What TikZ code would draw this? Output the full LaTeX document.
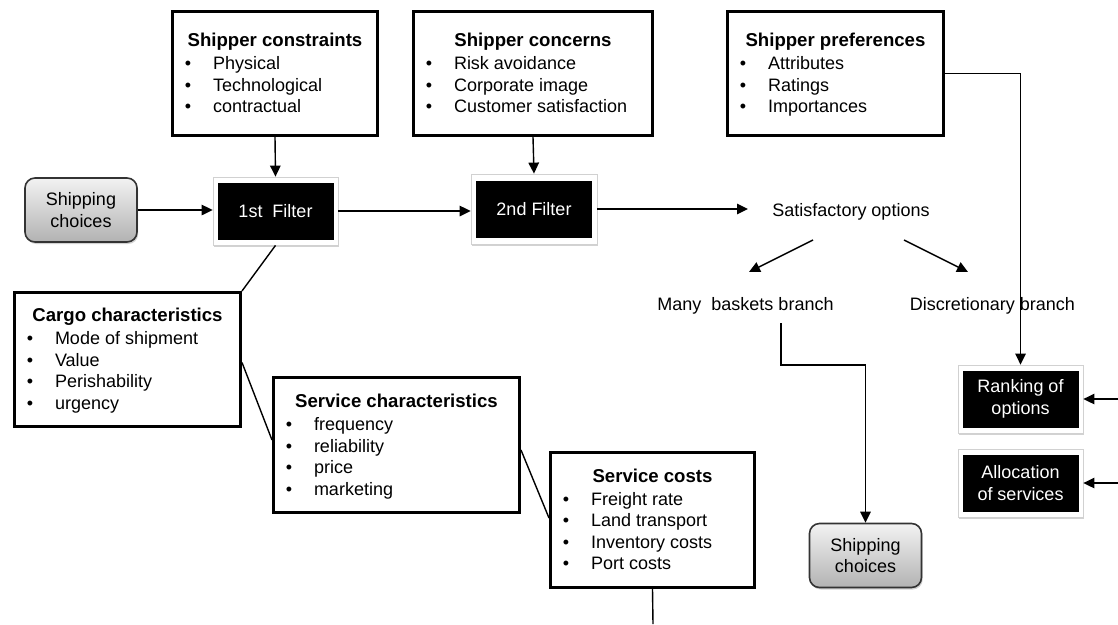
\documentclass[tikz,border=0pt]{standalone}
\usepackage{fontspec}
\setmainfont{Liberation Sans}
\usetikzlibrary{arrows.meta,shadows,calc}
\tikzset{
  txt/.style={inner sep=0pt, outer sep=0pt},
  lbox/.style={draw=black, line width=3pt, fill=white, inner sep=0pt},
  frame/.style={draw=black!18, line width=0.8pt, fill=white, inner sep=0pt,
    drop shadow={shadow xshift=1.2pt, shadow yshift=-1.8pt, fill=black!35, opacity=0.5}},
  blk/.style={fill=black, text=white, inner sep=0pt, align=center,
    minimum width=116pt, minimum height=57pt},
  choice/.style={draw=black!80, line width=1.6pt, rounded corners=10pt,
    top color=black!5, bottom color=black!30, align=center, inner sep=0pt,
    minimum width=112pt, minimum height=64pt,
    drop shadow={shadow xshift=1.2pt, shadow yshift=-2pt, fill=black!35, opacity=0.5}},
  conn/.style={line width=1.4pt},
  arr/.style={line width=1.4pt, -{Triangle[length=11pt,width=10.5pt]}},
}
\newcommand\listbox[8]{%
  \node[lbox, minimum width={(#4-#2-3)*1pt}, minimum height={(#5-#3-3)*1pt}] (#1) at ({(#2+#4)/2},{(#3+#5)/2}) {};
  \node[txt, anchor=base] (#1-t) at ({(#2+#4)/2},#6) {\fontsize{18.6}{21.5}\selectfont\textbf{#7}};
  \foreach \t [count=\i] in {#8}{%
    \node[txt, anchor=base] (#1-b\i) at ({#2+17},{#6+23+(\i-1)*21.5}) {\textbullet};
    \node[txt, anchor=base west] (#1-i\i) at ({#2+42},{#6+23+(\i-1)*21.5}) {\t};
  }%
}
\begin{document}
\begin{tikzpicture}[x=1pt, y={(0pt,-1pt)}, font=\fontsize{18}{21.5}\selectfont]
\fill[white] (0,0) rectangle (1118,624);
\useasboundingbox (0,0) rectangle (1118,624);

% top list boxes
\listbox{cons}{171}{10}{379}{137}{46.5}{Shipper constraints}{Physical,Technological,contractual}
\listbox{conc}{412}{10}{654}{137}{46.5}{Shipper concerns}{Risk avoidance,Corporate image,Customer satisfaction}
\listbox{pref}{726}{10}{945}{137}{46.5}{Shipper preferences}{Attributes,Ratings,Importances}

% bottom list boxes
\listbox{cargo}{13}{291}{242}{428}{321.5}{Cargo characteristics}{Mode of shipment,Value,Perishability,urgency}
\listbox{schar}{272}{376}{521}{514}{407.5}{Service characteristics}{frequency,reliability,price,marketing}
\listbox{scost}{549}{451}{756}{589}{482}{Service costs}{Freight rate,Land transport,Inventory costs,Port costs}

% shipping choices
\node[choice] (ship1) at (81,210) {Shipping\\choices};
\node[choice] (ship2) at (865.5,555.5) {Shipping\\choices};

% filters
\node[frame, minimum width=125pt, minimum height=68pt] (f1) at (275.5,211) {};
\node[blk] (f1i) at (275.5,211) {1st\ \ Filter};
\node[frame, minimum width=126pt, minimum height=70pt] (f2) at (534,209) {};
\node[blk] (f2i) at (534,209) {2nd Filter};
\node[frame, minimum width=125pt, minimum height=68pt] (rank) at (1020.5,399) {};
\node[blk] (ranki) at (1020.5,399) {Ranking of\\options};
\node[frame, minimum width=125pt, minimum height=68pt] (alloc) at (1020.5,483) {};
\node[blk] (alloci) at (1020.5,483) {Allocation\\of services};

% plain texts
\node[txt, anchor=base] (sat) at (851,216) {Satisfactory options};
\node[txt, anchor=base] (many) at (745.5,310) {Many\ \ baskets branch};
\node[txt, anchor=base] (disc) at (992.5,310) {Discretionary branch};

% free ends
\coordinate (satin) at (748,210);
\coordinate (s1a) at (813,240);
\coordinate (s1b) at (749,272);
\coordinate (s2a) at (904,240);
\coordinate (s2b) at (968,272);
\coordinate (mb) at (781,323);
\coordinate (rin) at (1118,399);
\coordinate (ain) at (1118,483);
\coordinate (scend) at (653,624);

% connectors
\draw[arr] (cons.south) -- (f1.north);
\draw[arr] (conc.south) -- (f2.north);
\draw[arr] (ship1.east) -- (ship1.east -| f1.west);
\draw[arr] (f1.east) -- (f1.east -| f2.west);
\draw[arr] (f2.east) -- (f2.east -| satin);
\draw[arr] (s1a) -- (s1b);
\draw[arr] (s2a) -- (s2b);
\draw[arr] (pref.east) -| (rank.north);
\draw[arr] (mb) -- ++(0,42) -| (ship2.north);
\draw[arr] (rin) -- (rank.east);
\draw[arr] (ain) -- (alloc.east);
\draw[conn] (f1.south) -- (cargo.north east);
\draw[conn] ([yshift=-3pt]cargo.east) -- ([yshift=5pt]schar.west);
\draw[conn] ([yshift=-5pt]schar.east) -- ([yshift=2pt]scost.west);
\draw[conn] (scost.south) -- (scend);
\end{tikzpicture}
\end{document}
